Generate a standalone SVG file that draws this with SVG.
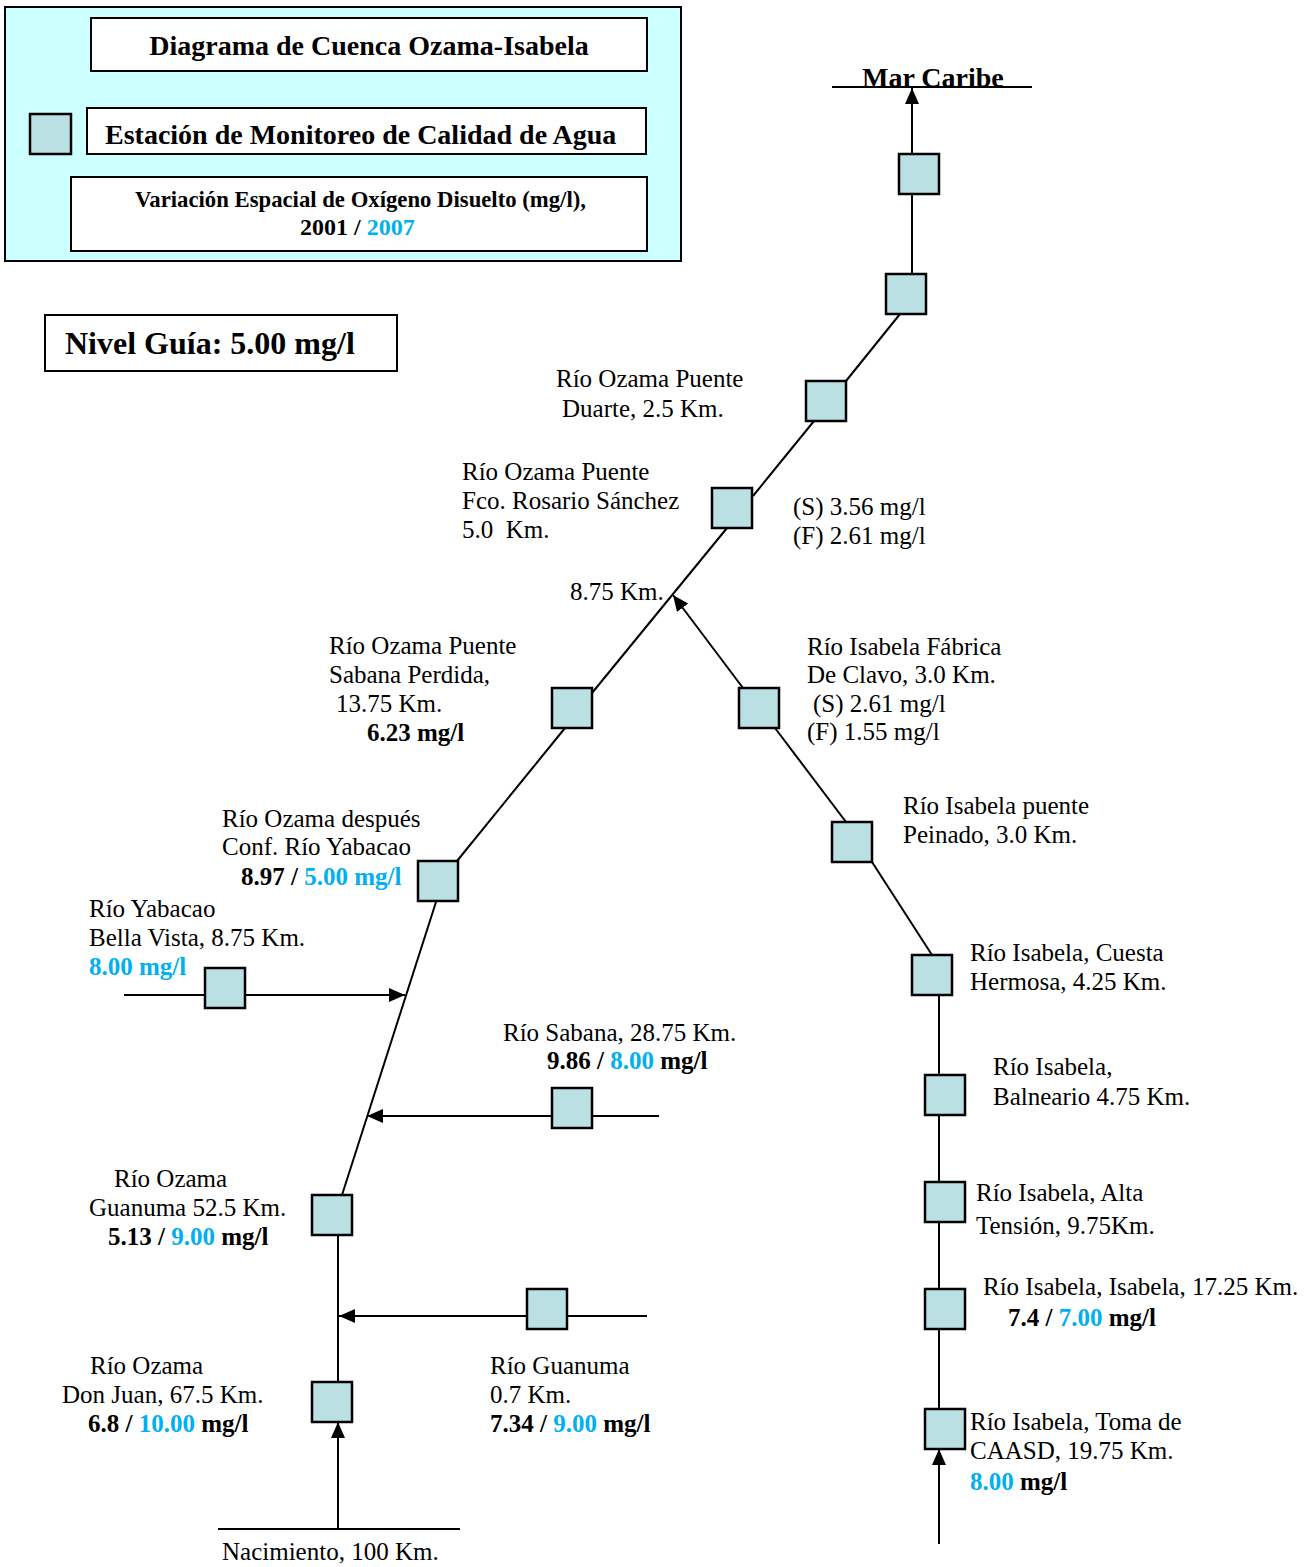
<svg xmlns="http://www.w3.org/2000/svg" width="1311" height="1567" viewBox="0 0 1311 1567">
<style>
.t{font-family:"Liberation Serif","Times New Roman",serif;font-size:25px;fill:#000;white-space:pre}
.b{font-weight:bold}
.bl{fill:#00B0F0}
.st{fill:#BBE0E3;stroke:#000;stroke-width:2.5}
.wb{fill:#fff;stroke:#000;stroke-width:2}
.ln{fill:none;stroke:#000;stroke-width:2}
</style>
<defs>
<marker id="ah" markerUnits="userSpaceOnUse" markerWidth="16" markerHeight="14" viewBox="0 0 16 14" refX="16" refY="7" orient="auto">
<path d="M0,0 L16,7 L0,14 Z" fill="#000"/>
</marker>
</defs>
<rect width="1311" height="1567" fill="#fff"/>
<g id="legend">
<rect x="5" y="7" width="676" height="254" fill="#CCFFFF" stroke="#000" stroke-width="2"/>
<rect class="wb" x="91" y="18" width="556" height="53"/>
<text class="t b" x="369" y="55" text-anchor="middle" style="font-size:28px">Diagrama de Cuenca Ozama-Isabela</text>
<rect class="st" x="30" y="114" width="41" height="40"/>
<rect class="wb" x="87" y="108" width="559" height="46"/>
<text class="t b" x="105" y="144" style="font-size:28px">Estación de Monitoreo de Calidad de Agua</text>
<rect class="wb" x="71" y="177" width="576" height="74"/>
<text class="t b" x="135" y="207" style="font-size:23px" textLength="451" lengthAdjust="spacingAndGlyphs">Variación Espacial de Oxígeno Disuelto (mg/l),</text>
<text class="t b" x="300" y="235" style="font-size:24px">2001 / <tspan class="bl">2007</tspan></text>
</g>
<g id="nivel">
<rect class="wb" x="45" y="315" width="352" height="56"/>
<text class="t b" x="65" y="354" style="font-size:32px">Nivel Guía: 5.00 mg/l</text>
</g>
<g id="connectors">
<line class="ln" x1="832" y1="87" x2="1032" y2="87"/>
<line class="ln" x1="912" y1="154" x2="912" y2="88" marker-end="url(#ah)"/>
<line class="ln" x1="912" y1="194" x2="912" y2="274"/>
<line class="ln" x1="900" y1="314" x2="846" y2="381"/>
<line class="ln" x1="814" y1="421" x2="753" y2="496"/>
<line class="ln" x1="727" y1="528" x2="592" y2="693"/>
<line class="ln" x1="743" y1="688" x2="673" y2="595" marker-end="url(#ah)"/>
<line class="ln" x1="775" y1="728" x2="846" y2="822"/>
<line class="ln" x1="872" y1="862" x2="932" y2="955"/>
<line class="ln" x1="939" y1="995" x2="939" y2="1409"/>
<line class="ln" x1="939" y1="1544" x2="939" y2="1449" marker-end="url(#ah)"/>
<line class="ln" x1="565" y1="728" x2="457" y2="861"/>
<line class="ln" x1="436" y1="902" x2="342" y2="1195"/>
<line class="ln" x1="124" y1="995" x2="405" y2="995" marker-end="url(#ah)"/>
<line class="ln" x1="659" y1="1116" x2="367" y2="1116" marker-end="url(#ah)"/>
<line class="ln" x1="338" y1="1235" x2="338" y2="1382"/>
<line class="ln" x1="647" y1="1316" x2="339" y2="1316" marker-end="url(#ah)"/>
<line class="ln" x1="338" y1="1529" x2="338" y2="1422" marker-end="url(#ah)"/>
<line class="ln" x1="218" y1="1529" x2="460" y2="1529"/>
</g>
<g id="mar-caribe"><text class="t b" x="862" y="87" style="font-size:28px">Mar Caribe</text></g>
<g id="s1"><rect class="st" x="899" y="154" width="40" height="40"/></g>
<g id="s2"><rect class="st" x="886" y="274" width="40" height="40"/></g>
<g id="s3"><rect class="st" x="806" y="381" width="40" height="40"/>
<text class="t" x="556" y="387">Río Ozama Puente</text>
<text class="t" x="562" y="417">Duarte, 2.5 Km.</text></g>
<g id="s4"><rect class="st" x="712" y="488" width="40" height="40"/>
<text class="t" x="462" y="480">Río Ozama Puente</text>
<text class="t" x="462" y="509">Fco. Rosario Sánchez</text>
<text class="t" x="462" y="538">5.0  Km.</text>
<text class="t" x="793" y="515">(S) 3.56 mg/l</text>
<text class="t" x="793" y="544">(F) 2.61 mg/l</text></g>
<g id="junction"><text class="t" x="570" y="600">8.75 Km.</text></g>
<g id="s5"><rect class="st" x="552" y="688" width="40" height="40"/>
<text class="t" x="329" y="654">Río Ozama Puente</text>
<text class="t" x="329" y="683">Sabana Perdida,</text>
<text class="t" x="336" y="712">13.75 Km.</text>
<text class="t b" x="367" y="741">6.23 mg/l</text></g>
<g id="s6"><rect class="st" x="739" y="688" width="40" height="40"/>
<text class="t" x="807" y="655">Río Isabela Fábrica</text>
<text class="t" x="807" y="683">De Clavo, 3.0 Km.</text>
<text class="t" x="813" y="712">(S) 2.61 mg/l</text>
<text class="t" x="807" y="740">(F) 1.55 mg/l</text></g>
<g id="s7"><rect class="st" x="832" y="822" width="40" height="40"/>
<text class="t" x="903" y="814">Río Isabela puente</text>
<text class="t" x="903" y="843">Peinado, 3.0 Km.</text></g>
<g id="s8"><rect class="st" x="912" y="955" width="40" height="40"/>
<text class="t" x="970" y="961">Río Isabela, Cuesta</text>
<text class="t" x="970" y="990">Hermosa, 4.25 Km.</text></g>
<g id="s9"><rect class="st" x="925" y="1075" width="40" height="40"/>
<text class="t" x="993" y="1075">Río Isabela,</text>
<text class="t" x="993" y="1105">Balneario 4.75 Km.</text></g>
<g id="s10"><rect class="st" x="925" y="1182" width="40" height="40"/>
<text class="t" x="976" y="1201">Río Isabela, Alta</text>
<text class="t" x="976" y="1234">Tensión, 9.75Km.</text></g>
<g id="s11"><rect class="st" x="925" y="1289" width="40" height="40"/>
<text class="t" x="983" y="1295">Río Isabela, Isabela, 17.25 Km.</text>
<text class="t b" x="1008" y="1326">7.4 / <tspan class="bl">7.00</tspan> mg/l</text></g>
<g id="s12"><rect class="st" x="925" y="1409" width="40" height="40"/>
<text class="t" x="970" y="1430">Río Isabela, Toma de</text>
<text class="t" x="970" y="1459">CAASD, 19.75 Km.</text>
<text class="t b" x="970" y="1490"><tspan class="bl">8.00</tspan> mg/l</text></g>
<g id="s13"><rect class="st" x="418" y="861" width="40" height="40"/>
<text class="t" x="222" y="827">Río Ozama después</text>
<text class="t" x="222" y="855">Conf. Río Yabacao</text>
<text class="t b" x="241" y="885">8.97 / <tspan class="bl">5.00 mg/l</tspan></text></g>
<g id="s15"><rect class="st" x="205" y="968" width="40" height="40"/>
<text class="t" x="89" y="917">Río Yabacao</text>
<text class="t" x="89" y="946">Bella Vista, 8.75 Km.</text>
<text class="t b bl" x="89" y="975">8.00 mg/l</text></g>
<g id="s16"><rect class="st" x="552" y="1088" width="40" height="40"/>
<text class="t" x="503" y="1041">Río Sabana, 28.75 Km.</text>
<text class="t b" x="547" y="1069">9.86 / <tspan class="bl">8.00</tspan> mg/l</text></g>
<g id="s14"><rect class="st" x="312" y="1195" width="40" height="40"/>
<text class="t" x="114" y="1187">Río Ozama</text>
<text class="t" x="89" y="1216">Guanuma 52.5 Km.</text>
<text class="t b" x="108" y="1245">5.13 / <tspan class="bl">9.00</tspan> mg/l</text></g>
<g id="s18"><rect class="st" x="527" y="1289" width="40" height="40"/>
<text class="t" x="490" y="1374">Río Guanuma</text>
<text class="t" x="490" y="1403">0.7 Km.</text>
<text class="t b" x="490" y="1432">7.34 / <tspan class="bl">9.00</tspan> mg/l</text></g>
<g id="s17"><rect class="st" x="312" y="1382" width="40" height="40"/>
<text class="t" x="90" y="1374">Río Ozama</text>
<text class="t" x="62" y="1403">Don Juan, 67.5 Km.</text>
<text class="t b" x="88" y="1432">6.8 / <tspan class="bl">10.00</tspan> mg/l</text></g>
<g id="nacimiento"><text class="t" x="222" y="1560">Nacimiento, 100 Km.</text></g>
</svg>
